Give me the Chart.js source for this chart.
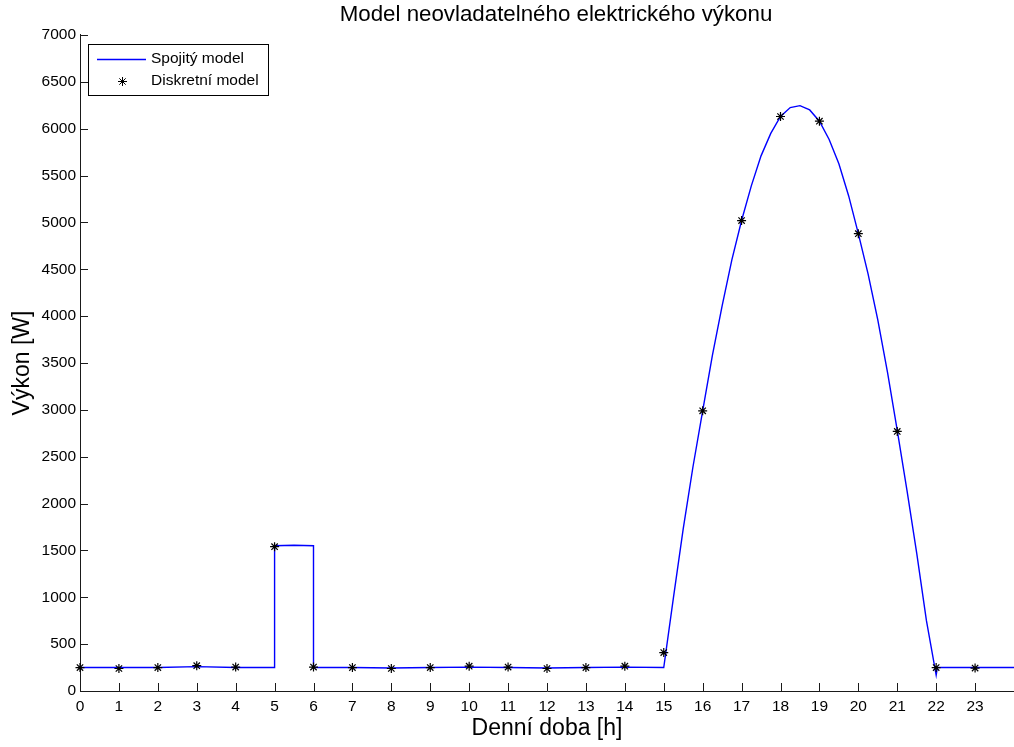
<!DOCTYPE html>
<html>
<head>
<meta charset="utf-8">
<script src="https://cdn.jsdelivr.net/npm/chart.js@4"></script>
<style>
html,body{margin:0;padding:0;background:#fff;}
#wrap{width:1014px;height:747px;position:relative;}
</style>
</head>
<body>
<div id="wrap"><canvas id="c" width="1014" height="747"></canvas></div>
<script>
// ---- data ----
const titleText = 'Model neovladatelného elektrického výkonu';
const xTitle = 'Denní doba [h]';
const yTitle = 'Výkon [W]';
const seriesNames = ['Spojitý model', 'Diskretní model'];

const hours = [0,1,2,3,4,5,6,7,8,9,10,11,12,13,14,15,16,17,18,19,20,21,22,23];
const discreteValues = [250,240,250,270,255,1540,255,250,240,250,265,255,240,250,265,410,2990,5020,6130,6080,4880,2770,250,245];

const contHours = [0,1,2,3,4,5,5,5.5,6,6,7,8,9,10,11,12,13,14,15,
  15.25,15.5,15.75,16,16.25,16.5,16.75,17,17.25,17.5,17.75,18,18.25,18.5,18.75,
  19,19.25,19.5,19.75,20,20.25,20.5,20.75,21,21.25,21.5,21.75,22,22.03,23,24];
const contValues = [250,250,250,260,250,250,1550,1555,1550,250,250,245,250,255,250,245,250,255,250,
  1000,1730,2390,2990,3580,4110,4600,5020,5390,5710,5950,6130,6225,6246,6200,
  6080,5885,5625,5285,4880,4450,3960,3400,2780,2140,1470,750,170,250,250,250];

const xTicks = [0,1,2,3,4,5,6,7,8,9,10,11,12,13,14,15,16,17,18,19,20,21,22,23];
const yTicks = [0,500,1000,1500,2000,2500,3000,3500,4000,4500,5000,5500,6000,6500,7000];

// ---- chart ----
const FONT = "'Liberation Sans', Arial, Helvetica, sans-serif";
const AXIS = '#1a1a1a';
const BLUE = '#0000ff';

const inwardTicks = {
  id: 'inwardTicks',
  afterLayout(chart) {
    // MATLAB centres the title over a slightly wider axes box
    if (chart.titleBlock) { chart.titleBlock.right += 18; }
  },
  afterDraw(chart) {
    const ctx = chart.ctx, a = chart.chartArea;
    const xs = chart.scales.x, ys = chart.scales.y;
    ctx.save();
    ctx.strokeStyle = AXIS;
    ctx.lineWidth = 1;
    ctx.beginPath();
    xTicks.forEach(v => {
      const px = Math.round(xs.getPixelForValue(v)) + 0.5;
      ctx.moveTo(px, a.bottom); ctx.lineTo(px, a.bottom - 8);
    });
    yTicks.forEach(v => {
      const py = Math.round(ys.getPixelForValue(v)) + 0.5;
      ctx.moveTo(a.left, py); ctx.lineTo(a.left + 8, py);
    });
    ctx.stroke();
    ctx.restore();
  }
};

const legendBox = {
  id: 'legendBox',
  afterDraw(chart) {
    const ctx = chart.ctx;
    const x0 = 88.5, y0 = 44.5, w = 180, h = 51;
    ctx.save();
    ctx.fillStyle = '#fff';
    ctx.fillRect(x0, y0, w, h);
    ctx.strokeStyle = '#000';
    ctx.lineWidth = 1;
    ctx.strokeRect(x0, y0, w, h);
    ctx.restore();

    // star sample
    ctx.save();
    ctx.strokeStyle = '#000'; ctx.fillStyle = '#000';
    Chart.helpers.drawPoint(ctx, {pointStyle: 'star', radius: 4.5, borderWidth: 1.2, rotation: 0}, 122.5, 81.5);
    ctx.restore();

    // line sample
    ctx.save();
    ctx.beginPath();
    ctx.strokeStyle = BLUE;
    ctx.lineWidth = 1.4;
    ctx.moveTo(97, 59.5); ctx.lineTo(146, 59.5);
    ctx.stroke();
    ctx.restore();

    // texts
    ctx.save();
    ctx.fillStyle = '#000';
    ctx.font = '15.5px ' + FONT;
    ctx.textBaseline = 'middle';
    ctx.textAlign = 'left';
    ctx.fillText(seriesNames[0], 151, 59);
    ctx.fillText(seriesNames[1], 151, 81);
    ctx.restore();
  }
};

new Chart(document.getElementById('c'), {
  type: 'line',
  data: {
    datasets: [
      {
        label: seriesNames[0],
        data: contHours.map((h, i) => ({x: h, y: contValues[i]})),
        borderColor: BLUE,
        borderWidth: 1.4,
        pointRadius: 0,
        tension: 0,
        fill: false,
        order: 2
      },
      {
        label: seriesNames[1],
        data: hours.map((h, i) => ({x: h, y: discreteValues[i]})),
        showLine: false,
        pointStyle: 'star',
        pointRadius: 4.5,
        pointBorderColor: '#000',
        pointBorderWidth: 1.2,
        pointBackgroundColor: '#000',
        clip: 8,
        order: 1
      }
    ]
  },
  options: {
    responsive: false,
    animation: false,
    devicePixelRatio: 1,
    layout: {autoPadding: false, padding: {left: 0, right: 0, top: 0, bottom: 0}},
    plugins: {
      legend: {display: false},
      tooltip: {enabled: false},
      title: {
        display: true,
        text: titleText,
        fullSize: false,
        color: '#000',
        font: {family: FONT, size: 22.3, weight: 'normal', lineHeight: 1.2},
        padding: {top: 1.6, bottom: 6.6}
      }
    },
    scales: {
      x: {
        type: 'linear',
        min: 0, max: 24,
        afterFit(s) { s.height = 56; s.paddingLeft = 0; s.paddingRight = 0; },
        afterBuildTicks(s) { s.ticks = xTicks.map(v => ({value: v})); },
        ticks: {
          color: '#000',
          font: {family: FONT, size: 15.5},
          padding: 6,
          maxRotation: 0,
          autoSkip: false,
          callback: v => String(v)
        },
        grid: {display: false, drawTicks: false},
        border: {display: true, color: AXIS, width: 1},
        title: {
          display: true, text: xTitle, color: '#000',
          font: {family: FONT, size: 23, lineHeight: 1.2},
          padding: {top: 0, bottom: 5}
        }
      },
      y: {
        type: 'linear',
        min: 0, max: 7000,
        afterFit(s) { s.width = 80; },
        afterBuildTicks(s) { s.ticks = yTicks.map(v => ({value: v})); },
        ticks: {
          color: '#000',
          font: {family: FONT, size: 15.5},
          padding: 4,
          callback: v => String(v)
        },
        grid: {display: false, drawTicks: false},
        border: {display: true, color: AXIS, width: 1},
        title: {
          display: true, text: yTitle, color: '#000',
          font: {family: FONT, size: 23, lineHeight: 1.2},
          padding: {top: 8.5, bottom: 0}
        }
      }
    }
  },
  plugins: [inwardTicks, legendBox]
});
</script>
</body>
</html>
